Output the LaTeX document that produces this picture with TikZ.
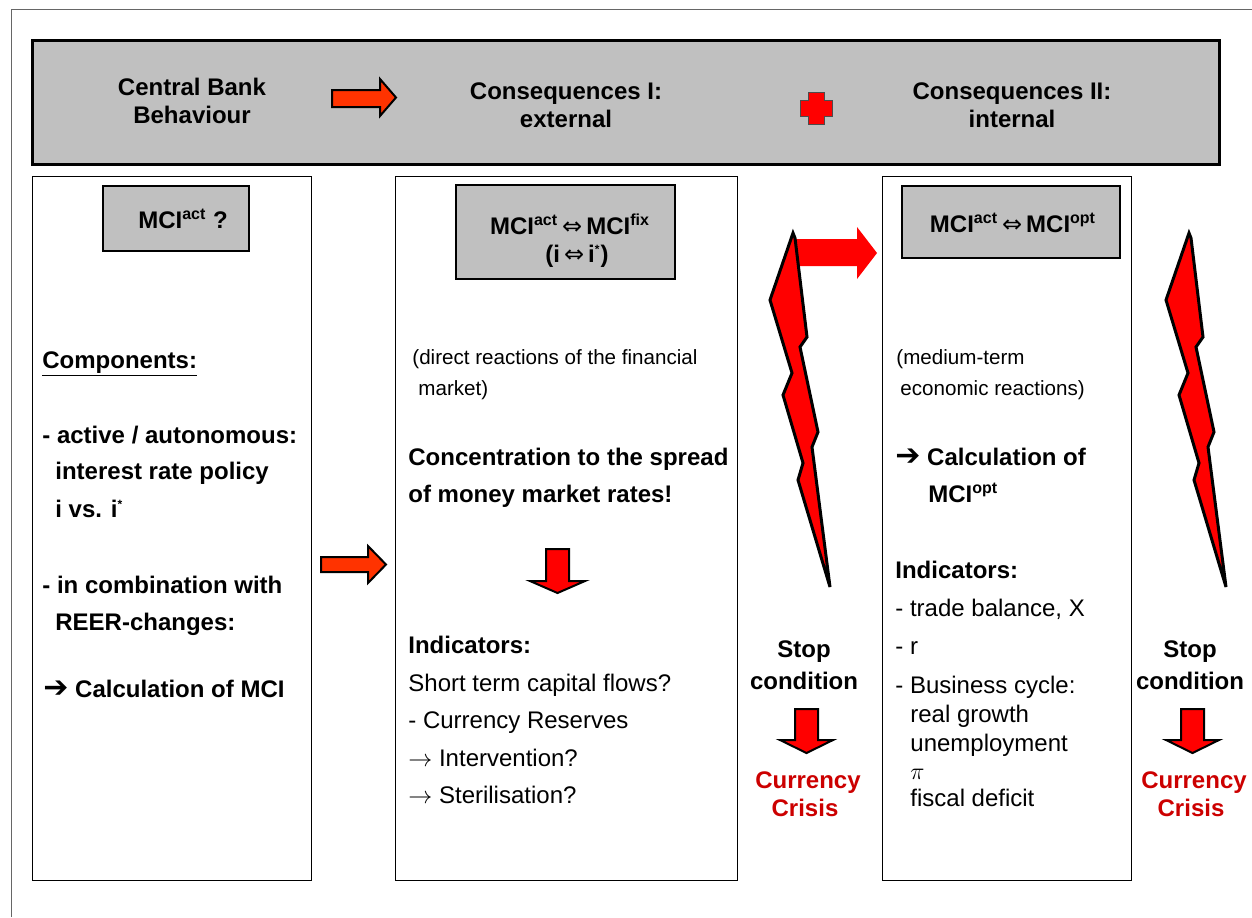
\documentclass[tikz,border=0pt]{standalone}
\usepackage{fontspec}
\setmainfont{Liberation Sans}
\newfontfamily\symfont{DejaVu Sans}
\usetikzlibrary{arrows}

\definecolor{panelgray}{HTML}{C0C0C0}
\definecolor{arrowred}{HTML}{FF3300}
\definecolor{boltred}{HTML}{FF0000}
\definecolor{crisisred}{HTML}{CC0000}

\newcommand{\mci}[1]{MCI\textsuperscript{#1}}
\newcommand{\dimp}{{\symfont\mdseries\,⇔\,}}
\newcommand{\hvarrow}{{\symfont\fontsize{15}{15}\selectfont ➔}}
\newcommand{\tinystar}{\textsuperscript{\fontsize{6}{6}\selectfont *}}

\begin{document}
\begin{tikzpicture}
		[x=0.5pt,y=-0.5pt,every node/.style={inner sep=0pt,anchor=base west},
		txtbold/.style={font=\fontsize{12}{14}\selectfont\bfseries},
		txtplain/.style={font=\fontsize{12}{14}\selectfont},
		txtsmall/.style={font=\fontsize{10.3}{12}\selectfont},
		panel/.style={draw=black,line width=0.75pt,fill=panelgray},
		colbox/.style={draw=black,line width=0.5pt},
		fatarrow/.style={draw=black,line width=1pt,fill=arrowred,line join=miter},
		droparrow/.style={draw=black,line width=1pt,fill=boltred,line join=miter},
		bolt/.style={draw=black,line width=1.5pt,fill=boltred,line join=miter}]
		\useasboundingbox (0,0) rectangle (1252,917);
		\draw[black!60,line width=0.5pt] (11,917) -- (11,9) -- (1252,9);
		
		% header
		\draw[panel,line width=1.5pt] (32,40) rectangle (1219,164);
		\node[txtbold,anchor=base] (cbb1) at (192,95) {Central Bank};
		\node[txtbold,anchor=base] (cbb2) at (192,123) {Behaviour};
		\node[txtbold,anchor=base] (cons1a) at (566,99) {Consequences I:};
		\node[txtbold,anchor=base] (cons1b) at (566,127) {external};
		\node[txtbold,anchor=base] (cons2a) at (1012,99) {Consequences II:};
		\node[txtbold,anchor=base] (cons2b) at (1012,127) {internal};
		\filldraw[fatarrow] (332,90) -- (380,90) -- (380,79) -- (396,97.5) -- (380,116) -- (380,107) -- (332,107) -- cycle;
		\filldraw[draw=black!70,line width=0.5pt,fill=boltred] (808,92) -- (824,92) -- (824,100) -- (832,100) -- (832,116) -- (824,116)
		-- (824,124) -- (808,124) -- (808,116) -- (800,116) -- (800,100) -- (808,100) -- cycle;
		
		% columns
		\draw[colbox] (32,176) rectangle (311,880);
		\draw[colbox] (395,176) rectangle (737,880);
		\draw[colbox] (882,176) rectangle (1131,880);
		
		\draw[panel] (103,186) rectangle (249,251);
		\node[txtbold,anchor=base] (mciA) at (183,228) {\mci{act} ?};
		\draw[panel] (456,185) rectangle (675,279);
		\node[txtbold,anchor=base] (mciB1) at (570,234) {\mci{act}\dimp\mci{fix}};
		\node[txtbold,anchor=base] (mciB2) at (577,262) {(i\dimp i\tinystar)};
		\draw[panel] (902,186) rectangle (1120,258);
		\node[txtbold,anchor=base] (mciC) at (1013,232) {\mci{act}\dimp\mci{opt}};
		
		% column 1
		\node[txtbold] (comp) at (42,368) {\underline{Components:}};
		\node[txtbold] (act) at (42,443) {- active / autonomous:};
		\node[txtbold] (irp) at (55,479) {interest rate policy};
		\node[txtbold] (ivs) at (55,517) {i vs. i\tinystar};
		\node[txtbold] (comb) at (42,593) {- in combination with};
		\node[txtbold] (reer) at (55,630) {REER-changes:};
		\node[txtbold] (calcA) at (43,697) {\hvarrow\ Calculation of MCI};
		\filldraw[fatarrow] (321,557) -- (368,557) -- (368,546) -- (386,564.5) -- (368,583) -- (368,572) -- (321,572) -- cycle;
		
		% column 2
		\node[txtsmall] (dir1) at (412,364) {(direct reactions of the financial};
		\node[txtsmall] (dir2) at (418,395) {market)};
		\node[txtbold] (conc1) at (408,465) {Concentration to the spread};
		\node[txtbold] (conc2) at (408,502) {of money market rates!};
		\filldraw[droparrow] (546,549) -- (569,549) -- (569,581) -- (585,581) -- (557.5,593) -- (530,581) -- (546,581) -- cycle;
		\node[txtbold] (indA) at (408,653) {Indicators:};
		\node[txtplain] (stcf) at (408,691) {Short term capital flows?};
		\node[txtplain] (cres) at (408,728) {- Currency Reserves};
		\node[txtplain] (intv) at (408,766) {$\rightarrow$ Intervention?};
		\node[txtplain] (ster) at (408,803) {$\rightarrow$ Sterilisation?};
		
		% column 3
		\node[txtsmall] (med1) at (896,364) {(medium-term};
		\node[txtsmall] (med2) at (900,395) {economic reactions)};
		\node[txtbold] (calcC) at (895,465) {\hvarrow\ Calculation of};
		\node[txtbold] (mciopt) at (928,502) {\mci{opt}};
		\node[txtbold] (indB) at (895,578) {Indicators:};
		\node[txtplain] (trb) at (895,616) {- trade balance, X};
		\node[txtplain] (rr) at (895,654) {- r};
		\node[txtplain] (bcy) at (895,693) {- Business cycle:};
		\node[txtplain] (rgr) at (910,722) {real growth};
		\node[txtplain] (unem) at (910,751) {unemployment};
		\node[txtplain] (infl) at (910,779) {$\pi$};
		\node[txtplain] (fisc) at (910,806) {fiscal deficit};
		
		% lightning and stop condition
		\fill[boltred] (795,239) -- (857,239) -- (857,227) -- (877,253) -- (857,279) -- (857,266) -- (795,266) -- cycle;
		\foreach \dx/\k in {0/1, 396/2}
		{
		\filldraw[bolt,shift={(\dx,0)}] (793,233) -- (770,300) -- (792,373) -- (783,395) -- (803,463) -- (798,480) -- (830,587)
		-- (812,447) -- (818,432) -- (800,347) -- (807,337) -- (795,238) -- cycle;
		}
		\foreach \x/\k in {804/1, 1190/2}
		{
		\node[txtbold,anchor=base] (stop\k) at (\x,657) {Stop};
		\node[txtbold,anchor=base] (cond\k) at (\x,689) {condition};
		\filldraw[droparrow,shift={(\x-804,0)}] (795,709) -- (818,709) -- (818,740) -- (833,740) -- (806.5,753) -- (780,740) -- (795,740) -- cycle;
		\node[txtbold,anchor=base,text=crisisred] (cur\k) at (\x+4,788) {Currency};
		\node[txtbold,anchor=base,text=crisisred] (cri\k) at (\x+1,816) {Crisis};
		}
\end{tikzpicture}
\end{document}
